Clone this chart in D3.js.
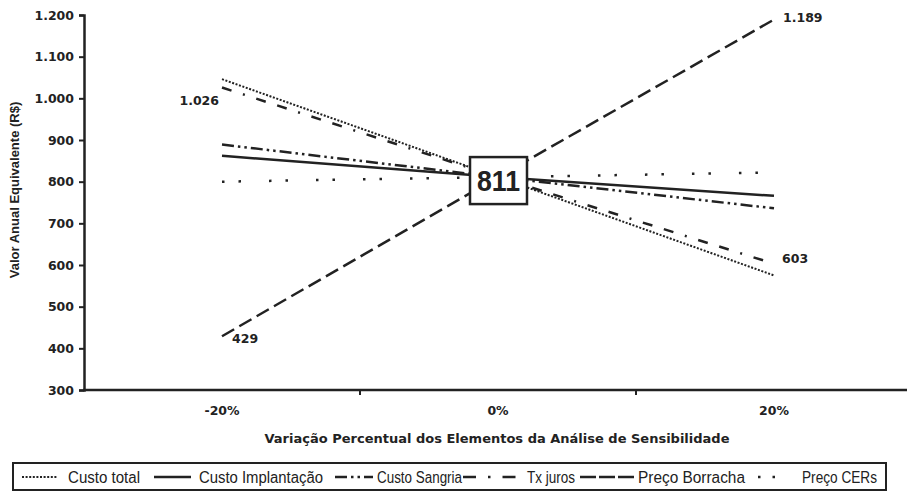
<!DOCTYPE html>
<html><head><meta charset="utf-8">
<script src="https://cdn.jsdelivr.net/npm/d3@7"></script>
<style>
body{margin:0;background:#fff;}
svg{display:block;font-family:"DejaVu Sans",sans-serif;}
</style></head>
<body><svg id="c" width="907" height="496"></svg>
<script>
const categories = ["-20%", "0%", "20%"];
const seriesNames = ["Custo total", "Custo Implantação", "Custo Sangria", "Tx juros", "Preço Borracha", "Preço CERs"];
const custoTotal = [1046, 811, 575];
const custoImplantacao = [862, 811, 766];
const custoSangria = [889, 811, 736];
const txJuros = [1026, 811, 603];
const precoBorracha = [429, 811, 1189];
const precoCERs = [800, 811, 822];
const yTicks = [300, 400, 500, 600, 700, 800, 900, 1000, 1100, 1200];
const baseValue = 811;

const series = [custoTotal, custoImplantacao, custoSangria, txJuros, precoBorracha, precoCERs];
const dashes = ["2,1.6", null, "12,4,2.5,4,2.5,4", "10,12,2,12,10,12", "14,6", "2.5,14,2.5,28"];
const legDashes = ["2,1.6", null, "12,4,2.5,4,2.5,4", "13,12,2.5,12", "16,3", "2.5,12"];
const widths = [2, 2.5, 2.5, 2.5, 2.5, 2.5];
const BOLD = "DejaVu Sans, sans-serif";
const INK = "#222";

const svg = d3.select("#c");
const x = d3.scaleBand().domain(categories).range([84, 912]);
const y = d3.scaleLinear().domain([300, 1200]).range([390, 15]);
const loc = d3.formatLocale({decimal: ",", thousands: ".", grouping: [3], currency: ["R$", ""]});
const fmt = loc.format(",d");

// Y axis
const ya = svg.append("g").attr("transform", "translate(84,0)")
  .call(d3.axisLeft(y).tickValues(yTicks).tickFormat(fmt).tickSize(5).tickPadding(5));
ya.select(".domain").attr("stroke", INK).attr("stroke-width", 2.5);
ya.selectAll(".tick line").attr("stroke", INK).attr("stroke-width", 2);
ya.selectAll(".tick text").attr("font-size", 12.5).attr("font-weight", "bold").attr("fill", INK)
  .attr("font-family", BOLD);

// X axis
const xa = svg.append("g").attr("transform", "translate(0,390)");
xa.append("line").attr("x1", 83).attr("x2", 912).attr("y1", 0).attr("y2", 0)
  .attr("stroke", INK).attr("stroke-width", 2.5);
categories.slice(1).forEach(c => {
  xa.append("line").attr("x1", x(c)).attr("x2", x(c)).attr("y1", 0).attr("y2", 5)
    .attr("stroke", INK).attr("stroke-width", 2);
});
categories.forEach(c => {
  xa.append("text").attr("x", x(c) + x.bandwidth() / 2).attr("y", 25)
    .attr("text-anchor", "middle").attr("font-size", 12.5).attr("font-weight", "bold")
    .attr("font-family", BOLD).attr("fill", INK).text(c);
});

// Axis titles
svg.append("text").attr("x", 497).attr("y", 443).attr("text-anchor", "middle")
  .attr("font-size", 13).attr("font-weight", "bold").attr("font-family", BOLD).attr("fill", INK)
  .text("Variação Percentual dos Elementos da Análise de Sensibilidade");
svg.append("text").attr("transform", "translate(19,190) rotate(-90)").attr("text-anchor", "middle")
  .attr("font-size", 13).attr("font-weight", "bold").attr("font-family", "Liberation Sans, Arial, sans-serif")
  .attr("fill", INK).text("Valor Anual Equivalente (R$)");

// Lines
const cx = c => x(c) + x.bandwidth() / 2;
const line = d3.line().x((d, i) => cx(categories[i])).y(d => y(d));
series.forEach((s, k) => {
  svg.append("path").datum(s).attr("d", line).attr("fill", "none")
    .attr("stroke", INK).attr("stroke-width", widths[k])
    .attr("stroke-dasharray", dashes[k]);
});

// Data labels
const lbl = (t, px, py, anchor) => svg.append("text").attr("x", px).attr("y", py)
  .attr("text-anchor", anchor).attr("font-size", 12.5).attr("font-weight", "bold")
  .attr("font-family", BOLD).attr("fill", INK).text(t);
lbl(fmt(txJuros[0]), cx(categories[0]) - 3, y(txJuros[0]) + 17, "end");
lbl(fmt(txJuros[2]), cx(categories[2]) + 8, y(txJuros[2]) - 1, "start");
lbl(fmt(precoBorracha[2]), cx(categories[2]) + 9, y(precoBorracha[2]) + 2, "start");
lbl(fmt(precoBorracha[0]), cx(categories[0]) + 10, y(precoBorracha[0]) + 7, "start");

// Center box
const bx = cx(categories[1]), by = y(baseValue) + 3;
svg.append("rect").attr("x", bx - 28).attr("y", by - 23).attr("width", 57).attr("height", 47)
  .attr("fill", "#fff").attr("stroke", INK).attr("stroke-width", 2.5);
svg.append("text").attr("x", bx - 21).attr("y", by + 11)
  .attr("textLength", 43).attr("lengthAdjust", "spacingAndGlyphs")
  .attr("font-family", "Liberation Sans, Arial, sans-serif")
  .attr("font-size", 30).attr("font-weight", "bold").attr("fill", INK).text(fmt(baseValue));

// Legend
svg.append("rect").attr("x", 13).attr("y", 463).attr("width", 873).attr("height", 27)
  .attr("fill", "#fff").attr("stroke", INK).attr("stroke-width", 2);
const legSample = [[22, 58], [154, 191], [335, 373], [463, 521], [580, 635], [758, 775]];
const legText = [[68, 72], [199, 124], [377, 85], [527, 48], [638, 107], [802, 75]];
series.forEach((s, k) => {
  svg.append("line").attr("x1", legSample[k][0]).attr("x2", legSample[k][1]).attr("y1", 477).attr("y2", 477)
    .attr("stroke", INK).attr("stroke-width", widths[k]).attr("stroke-dasharray", legDashes[k]);
  svg.append("text").attr("x", legText[k][0]).attr("y", 483)
    .attr("textLength", legText[k][1]).attr("lengthAdjust", "spacingAndGlyphs")
    .attr("font-family", "Liberation Sans, Arial, sans-serif")
    .attr("font-size", 16).attr("fill", INK).text(seriesNames[k]);
});
</script></body></html>
